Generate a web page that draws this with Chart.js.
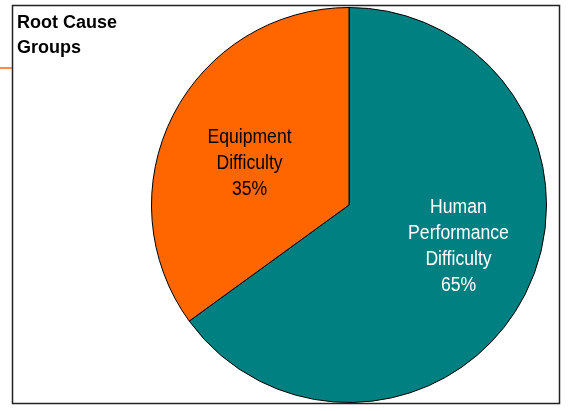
<!DOCTYPE html>
<html>
<head>
<meta charset="utf-8">
<script src="https://cdn.jsdelivr.net/npm/chart.js@4.4.1/dist/chart.umd.min.js"></script>
<style>
    html, body { margin: 0; padding: 0; background: #fff; }
    #wrap { position: relative; width: 568px; height: 411px; }
    #rootChart { position: absolute; left: 0; top: 0; }
    #groupTitle {
        position: absolute; left: 17px; top: 10px;
        font: bold 18px "Liberation Sans", Arial, sans-serif;
        line-height: 25px; color: #000;
    }
</style>
</head>
<body>
<div id="wrap">
    <canvas id="rootChart" width="568" height="411"></canvas>
    <div id="groupTitle">Root Cause<br>Groups</div>
</div>
<script>
// Root cause groups data
const categories = [
    ['Human', 'Performance', 'Difficulty'],
    ['Equipment', 'Difficulty']
];
const shares = [65, 35];
const sliceColors = ['#008080', '#FF6600'];
const labelColors = ['#ffffff', '#000000'];

// frame + little orange tick at the left, drawn under the pie
const framePlugin = {
    id: 'frame',
    beforeDraw: function(chart) {
        const ctx = chart.ctx;
        ctx.save();
        ctx.strokeStyle = '#222';
        ctx.lineWidth = 1.5;
        ctx.strokeRect(12.5, 5.5, 547, 398);
        ctx.strokeStyle = '#FF6600';
        ctx.lineWidth = 1.5;
        ctx.beginPath();
        ctx.moveTo(0, 68);
        ctx.lineTo(12, 68);
        ctx.stroke();
        ctx.restore();
    }
};

// labels inside the slices (narrowed Liberation Sans, like Arial Narrow)
const sliceLabels = {
    id: 'sliceLabels',
    afterDatasetsDraw: function(chart) {
        const ctx = chart.ctx;
        const meta = chart.getDatasetMeta(0);
        const squeeze = 0.88;
        meta.data.forEach(function(arc, i) {
            const p = arc.getProps(['x', 'y', 'startAngle', 'endAngle', 'outerRadius'], true);
            const mid = (p.startAngle + p.endAngle) / 2 - 0.09;
            const r = p.outerRadius * 0.57;
            const cx = p.x + Math.cos(mid) * r + 5;
            const cy = p.y + Math.sin(mid) * r;
            const lines = categories[i].concat([shares[i] + '%']);
            const lh = 26;
            ctx.save();
            ctx.font = '20px "Liberation Sans", Arial, sans-serif';
            ctx.textAlign = 'center';
            ctx.textBaseline = 'middle';
            ctx.fillStyle = labelColors[i];
            ctx.translate(cx, cy);
            ctx.scale(squeeze, 1);
            lines.forEach(function(t, k) {
                ctx.fillText(t, 0, (k - (lines.length - 1) / 2) * lh);
            });
            ctx.restore();
        });
    }
};

new Chart(document.getElementById('rootChart'), {
    type: 'pie',
    data: {
        labels: categories.map(function(c) { return c.join(' '); }),
        datasets: [{
            data: shares,
            backgroundColor: sliceColors,
            borderColor: '#000',
            borderWidth: 1
        }]
    },
    options: {
        responsive: false,
        animation: false,
        layout: {
            padding: { left: 151, right: 21, top: 7, bottom: 8 }
        },
        plugins: {
            legend: { display: false },
            tooltip: { enabled: false }
        }
    },
    plugins: [framePlugin, sliceLabels]
});
</script>
</body>
</html>
